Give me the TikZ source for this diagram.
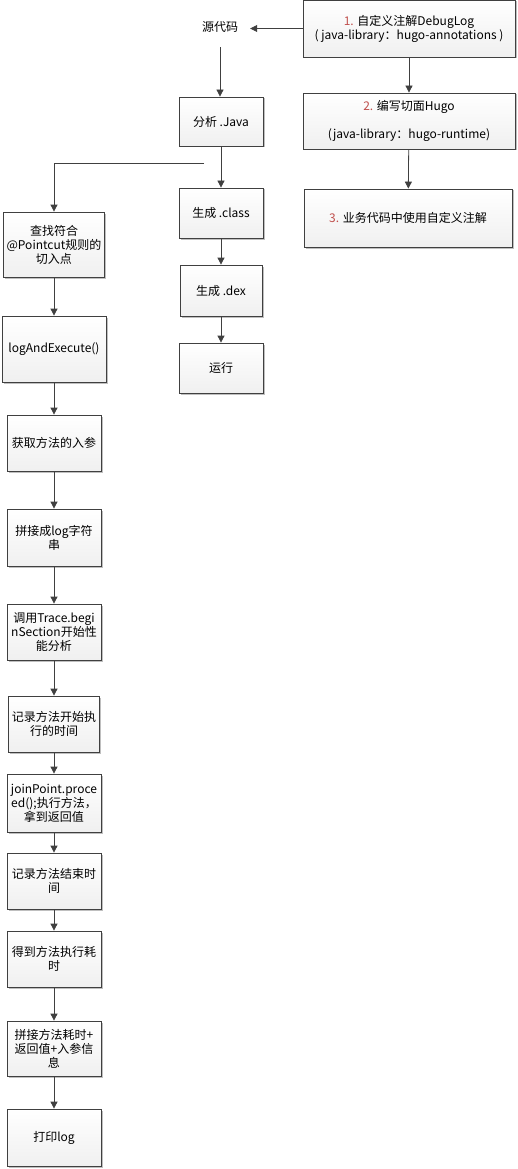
\documentclass[tikz,border=0pt]{standalone}
\usepackage{fontspec}
\setmainfont{Noto Sans CJK SC}
\usetikzlibrary{arrows.meta,shadows}
\definecolor{numred}{HTML}{C0504D}
\definecolor{edge}{HTML}{404040}

\begin{document}
\begin{tikzpicture}[x=1pt, y=-1pt,
	box/.style={draw=edge, line width=0.8pt, top color=white, bottom color=gray!12,
		drop shadow={shadow xshift=1.5pt, shadow yshift=-1.5pt, opacity=0.25, fill=black},
		align=center, inner sep=1pt, font=\fontsize{12}{14}\selectfont},
	arr/.style={draw=edge, line width=0.8pt, -{Triangle[width=7pt,length=7pt]}}]
	% Cadre
	\fill[white] (0, 0) rectangle (517, 1169);
	\useasboundingbox (0, 0) rectangle (517, 1169);
	% Colonne de droite
	\node[box, minimum width=212, minimum height=57] (anno) at (409, 28.5)
		{\textcolor{numred}{1.} 自定义注解DebugLog\\( java-library：hugo-annotations )};
	\node[box, minimum width=212, minimum height=56] (aspect) at (409, 121)
		{\textcolor{numred}{2.} 编写切面Hugo\\[14pt](java-library：hugo-runtime)};
	\node[box, minimum width=208, minimum height=58] (usage) at (408, 218)
		{\textcolor{numred}{3.} 业务代码中使用自定义注解};
	% Compilation
	\node[minimum width=60, minimum height=40, inner sep=0pt, font=\fontsize{12}{14}\selectfont] (src) at (220, 27) {源代码};
	\node[box, minimum width=84, minimum height=49] (java) at (221, 121.5) {分析 .Java};
	\node[box, minimum width=84, minimum height=50] (class) at (221, 213) {生成 .class};
	\node[box, minimum width=82, minimum height=51] (dex) at (221, 290.5) {生成 .dex};
	\node[box, minimum width=84, minimum height=50] (run) at (221, 368) {运行};
	% Colonne de gauche
	\node[box, minimum width=101, minimum height=65] (find) at (54, 244.5) {查找符合\\@Pointcut规则的\\切入点};
	\node[box, minimum width=104, minimum height=66] (logexec) at (54, 349) {logAndExecute()};
	\node[box, minimum width=94, minimum height=56] (args) at (54, 443) {获取方法的入参};
	\node[box, minimum width=94, minimum height=57] (logstr) at (54, 537.5) {拼接成log字符\\串};
	\node[box, minimum width=94, minimum height=56] (trace) at (54, 632) {调用Trace.begi\\nSection开始性\\能分析};
	\node[box, minimum width=91, minimum height=56] (tstart) at (54, 724) {记录方法开始执\\行的时间};
	\node[box, minimum width=94, minimum height=58] (proceed) at (54, 803) {joinPoint.proce\\ed();执行方法，\\拿到返回值};
	\node[box, minimum width=94, minimum height=56] (tend) at (54, 881) {记录方法结束时\\间};
	\node[box, minimum width=94, minimum height=56] (cost) at (54, 959) {得到方法执行耗\\时};
	\node[box, minimum width=94, minimum height=55] (msg) at (54, 1048.5) {拼接方法耗时+\\返回值+入参信\\息};
	\node[box, minimum width=94, minimum height=57] (print) at (54, 1137.5) {打印log};
	\coordinate (split) at (204, 163);
	% Fleches
	\draw[arr] (anno.west) -- (anno.west -| src.east);
	\draw[arr] (anno) -- (aspect);
	\draw[arr] (aspect) -- (usage);
	\draw[arr] (src.south) -- (src.south |- java.north);
	\draw[arr] (java) -- (class);
	\draw[arr] (class) -- (dex);
	\draw[arr] (dex) -- (run);
	\draw[arr] (split) -| (find.north);
	\foreach \a/\b in {find/logexec, logexec/args, args/logstr, logstr/trace, trace/tstart,
		tstart/proceed, proceed/tend, tend/cost, cost/msg, msg/print}
		\draw[arr] (\a) -- (\b);
\end{tikzpicture}
\end{document}
